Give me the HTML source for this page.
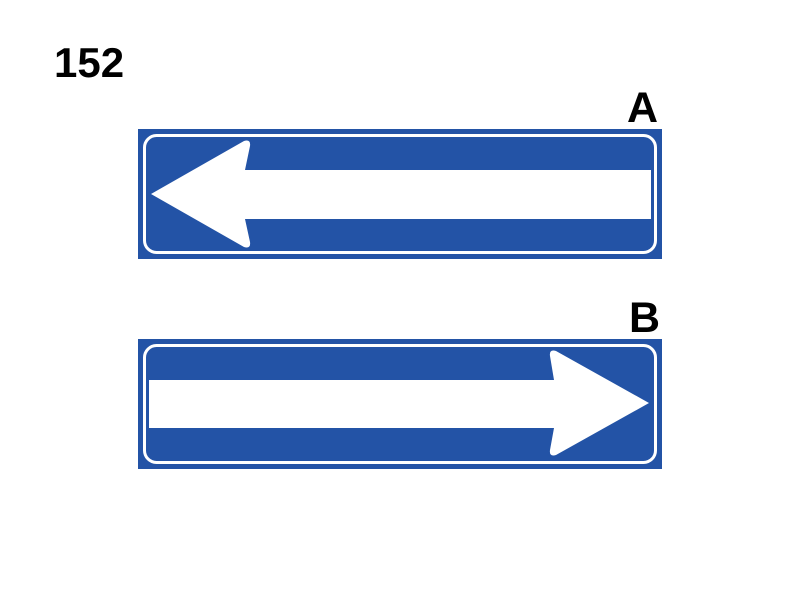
<!DOCTYPE html>
<html><head><meta charset="utf-8"><style>
html,body{margin:0;padding:0;background:#fff;width:800px;height:600px;overflow:hidden}
svg{display:block}
text{font-family:"Liberation Sans",sans-serif;font-weight:bold;fill:#000}
</style></head><body>
<svg width="800" height="600" viewBox="0 0 800 600">
<text x="54" y="77" font-size="42">152</text>
<text x="627" y="122" font-size="43">A</text>
<text x="629" y="332" font-size="43">B</text>
<g>
<rect x="138" y="129" width="524" height="130" fill="#2353a6"/>
<rect x="144.5" y="135.5" width="511" height="117" rx="12" fill="none" stroke="#fff" stroke-width="3"/>
<path d="M151 194 L244 141 Q251 139 250 146 L245 170 L651 170 L651 219 L245 219 L250 242 Q251 249 244 247 Z" fill="#fff"/>
</g>
<g>
<rect x="138" y="339" width="524" height="130" fill="#2353a6"/>
<rect x="144.5" y="345.5" width="511" height="117" rx="12" fill="none" stroke="#fff" stroke-width="3"/>
<path d="M649 403 L556 351 Q549 349 550 356 L554 380 L149 380 L149 428 L554 428 L550 450 Q549 457 556 455 Z" fill="#fff"/>
</g>
</svg>
</body></html>
